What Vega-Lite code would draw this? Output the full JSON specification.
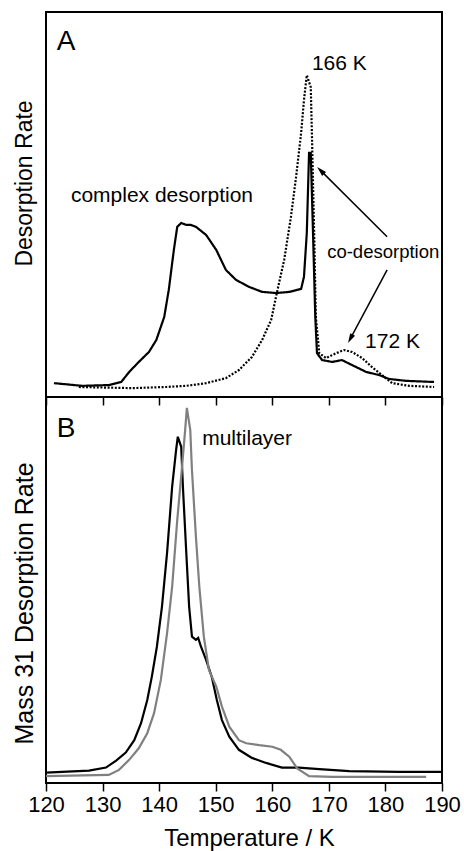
{
  "$schema": "https://vega.github.io/schema/vega-lite/v6.json",
  "padding": {"left": 10, "top": 11, "right": 0, "bottom": 0},
  "spacing": 0,
  "bounds": "flush",
  "config": {
    "view": {"stroke": "#000000", "strokeWidth": 2},
    "font": "Liberation Sans",
    "axis": {"grid": false, "labelColor": "#000000", "titleColor": "#000000", "tickColor": "#000000", "titleFontWeight": "normal", "titleFont": "Liberation Sans", "labelFont": "Liberation Sans"},
    "text": {"font": "Liberation Sans", "color": "#000000"}
  },
  "datasets": {
    "a": [
      {"series": "mixture", "T": 121.4, "rate": 3.6}, {"series": "mixture", "T": 126.4, "rate": 2.9}, {"series": "mixture", "T": 131.1, "rate": 3.1}, {"series": "mixture", "T": 133.3, "rate": 3.9}, {"series": "mixture", "T": 134.7, "rate": 6.5}, {"series": "mixture", "T": 136.4, "rate": 9.1}, {"series": "mixture", "T": 138.2, "rate": 11.7}, {"series": "mixture", "T": 139.5, "rate": 14.8}, {"series": "mixture", "T": 140.9, "rate": 20.8}, {"series": "mixture", "T": 141.7, "rate": 27.8}, {"series": "mixture", "T": 142.6, "rate": 38.2}, {"series": "mixture", "T": 143.2, "rate": 44.2}, {"series": "mixture", "T": 143.9, "rate": 45.2}, {"series": "mixture", "T": 144.8, "rate": 44.7}, {"series": "mixture", "T": 145.6, "rate": 44.7}, {"series": "mixture", "T": 146.5, "rate": 44.2}, {"series": "mixture", "T": 148.3, "rate": 42.1}, {"series": "mixture", "T": 150.1, "rate": 38.2}, {"series": "mixture", "T": 151.8, "rate": 33.0}, {"series": "mixture", "T": 153.6, "rate": 30.4}, {"series": "mixture", "T": 155.9, "rate": 28.6}, {"series": "mixture", "T": 158.2, "rate": 27.3}, {"series": "mixture", "T": 160.7, "rate": 27.0}, {"series": "mixture", "T": 163.0, "rate": 27.3}, {"series": "mixture", "T": 165.1, "rate": 28.1}, {"series": "mixture", "T": 165.6, "rate": 31.2}, {"series": "mixture", "T": 166.1, "rate": 42.6}, {"series": "mixture", "T": 166.5, "rate": 63.4}, {"series": "mixture", "T": 166.8, "rate": 63.4}, {"series": "mixture", "T": 167.2, "rate": 42.6}, {"series": "mixture", "T": 167.6, "rate": 20.8}, {"series": "mixture", "T": 167.9, "rate": 11.4}, {"series": "mixture", "T": 168.8, "rate": 9.6}, {"series": "mixture", "T": 170.6, "rate": 9.1}, {"series": "mixture", "T": 172.3, "rate": 9.6}, {"series": "mixture", "T": 174.1, "rate": 8.3}, {"series": "mixture", "T": 176.6, "rate": 6.5}, {"series": "mixture", "T": 178.9, "rate": 5.7}, {"series": "mixture", "T": 180.6, "rate": 4.7}, {"series": "mixture", "T": 183.6, "rate": 4.2}, {"series": "mixture", "T": 188.6, "rate": 3.9},
      {"series": "reference", "T": 125.8, "rate": 2.6}, {"series": "reference", "T": 135.2, "rate": 2.3}, {"series": "reference", "T": 141.2, "rate": 2.6}, {"series": "reference", "T": 144.8, "rate": 2.9}, {"series": "reference", "T": 148.3, "rate": 3.6}, {"series": "reference", "T": 151.8, "rate": 4.9}, {"series": "reference", "T": 154.1, "rate": 7.0}, {"series": "reference", "T": 156.4, "rate": 10.4}, {"series": "reference", "T": 158.2, "rate": 14.8}, {"series": "reference", "T": 159.8, "rate": 20.0}, {"series": "reference", "T": 160.8, "rate": 27.0}, {"series": "reference", "T": 162.1, "rate": 35.6}, {"series": "reference", "T": 163.3, "rate": 46.8}, {"series": "reference", "T": 164.2, "rate": 57.1}, {"series": "reference", "T": 165.1, "rate": 68.6}, {"series": "reference", "T": 165.6, "rate": 77.1}, {"series": "reference", "T": 166.1, "rate": 83.6}, {"series": "reference", "T": 166.8, "rate": 80.5}, {"series": "reference", "T": 167.0, "rate": 68.6}, {"series": "reference", "T": 167.4, "rate": 42.6}, {"series": "reference", "T": 167.7, "rate": 20.8}, {"series": "reference", "T": 168.3, "rate": 11.4}, {"series": "reference", "T": 169.5, "rate": 10.1}, {"series": "reference", "T": 171.3, "rate": 11.4}, {"series": "reference", "T": 172.7, "rate": 12.2}, {"series": "reference", "T": 174.1, "rate": 11.7}, {"series": "reference", "T": 175.9, "rate": 10.1}, {"series": "reference", "T": 177.6, "rate": 7.8}, {"series": "reference", "T": 179.4, "rate": 5.7}, {"series": "reference", "T": 181.2, "rate": 3.6}, {"series": "reference", "T": 184.2, "rate": 2.9}, {"series": "reference", "T": 188.6, "rate": 2.6}
    ],
    "b": [
      {"series": "submonolayer", "T": 120.0, "rate": 2.7}, {"series": "submonolayer", "T": 127.6, "rate": 3.2}, {"series": "submonolayer", "T": 130.6, "rate": 4.0}, {"series": "submonolayer", "T": 132.4, "rate": 5.8}, {"series": "submonolayer", "T": 134.1, "rate": 7.9}, {"series": "submonolayer", "T": 135.6, "rate": 11.1}, {"series": "submonolayer", "T": 136.8, "rate": 15.5}, {"series": "submonolayer", "T": 137.9, "rate": 21.5}, {"series": "submonolayer", "T": 138.7, "rate": 27.5}, {"series": "submonolayer", "T": 139.6, "rate": 35.3}, {"series": "submonolayer", "T": 140.5, "rate": 45.7}, {"series": "submonolayer", "T": 141.4, "rate": 59.6}, {"series": "submonolayer", "T": 142.3, "rate": 76.8}, {"series": "submonolayer", "T": 143.0, "rate": 86.3}, {"series": "submonolayer", "T": 143.3, "rate": 89.7}, {"series": "submonolayer", "T": 143.9, "rate": 87.1}, {"series": "submonolayer", "T": 144.2, "rate": 76.8}, {"series": "submonolayer", "T": 144.8, "rate": 59.6}, {"series": "submonolayer", "T": 145.3, "rate": 45.7}, {"series": "submonolayer", "T": 145.8, "rate": 37.9}, {"series": "submonolayer", "T": 146.5, "rate": 37.1}, {"series": "submonolayer", "T": 146.9, "rate": 37.6}, {"series": "submonolayer", "T": 147.4, "rate": 35.3}, {"series": "submonolayer", "T": 148.3, "rate": 31.9}, {"series": "submonolayer", "T": 149.3, "rate": 27.5}, {"series": "submonolayer", "T": 150.2, "rate": 21.5}, {"series": "submonolayer", "T": 151.1, "rate": 16.3}, {"series": "submonolayer", "T": 152.4, "rate": 12.0}, {"series": "submonolayer", "T": 154.1, "rate": 8.6}, {"series": "submonolayer", "T": 156.4, "rate": 6.5}, {"series": "submonolayer", "T": 158.9, "rate": 5.2}, {"series": "submonolayer", "T": 161.7, "rate": 4.0}, {"series": "submonolayer", "T": 164.7, "rate": 4.0}, {"series": "submonolayer", "T": 168.3, "rate": 3.6}, {"series": "submonolayer", "T": 173.6, "rate": 3.1}, {"series": "submonolayer", "T": 182.4, "rate": 2.9}, {"series": "submonolayer", "T": 190.0, "rate": 2.9},
      {"series": "multilayer", "T": 120.0, "rate": 1.8}, {"series": "multilayer", "T": 131.1, "rate": 2.1}, {"series": "multilayer", "T": 132.9, "rate": 3.4}, {"series": "multilayer", "T": 134.7, "rate": 6.0}, {"series": "multilayer", "T": 136.4, "rate": 9.0}, {"series": "multilayer", "T": 137.9, "rate": 12.9}, {"series": "multilayer", "T": 139.1, "rate": 18.1}, {"series": "multilayer", "T": 140.3, "rate": 26.7}, {"series": "multilayer", "T": 141.4, "rate": 38.8}, {"series": "multilayer", "T": 142.3, "rate": 50.9}, {"series": "multilayer", "T": 143.2, "rate": 68.1}, {"series": "multilayer", "T": 144.0, "rate": 81.1}, {"series": "multilayer", "T": 144.6, "rate": 91.5}, {"series": "multilayer", "T": 144.9, "rate": 97.2}, {"series": "multilayer", "T": 145.5, "rate": 91.5}, {"series": "multilayer", "T": 145.8, "rate": 81.1}, {"series": "multilayer", "T": 146.5, "rate": 63.8}, {"series": "multilayer", "T": 147.1, "rate": 50.9}, {"series": "multilayer", "T": 147.9, "rate": 37.9}, {"series": "multilayer", "T": 148.8, "rate": 29.3}, {"series": "multilayer", "T": 150.1, "rate": 25.0}, {"series": "multilayer", "T": 151.1, "rate": 19.8}, {"series": "multilayer", "T": 152.4, "rate": 14.6}, {"series": "multilayer", "T": 154.1, "rate": 11.1}, {"series": "multilayer", "T": 155.4, "rate": 10.3}, {"series": "multilayer", "T": 157.7, "rate": 9.8}, {"series": "multilayer", "T": 160.0, "rate": 9.4}, {"series": "multilayer", "T": 161.5, "rate": 8.6}, {"series": "multilayer", "T": 163.0, "rate": 6.8}, {"series": "multilayer", "T": 164.4, "rate": 3.8}, {"series": "multilayer", "T": 166.5, "rate": 1.8}, {"series": "multilayer", "T": 170.6, "rate": 1.6}, {"series": "multilayer", "T": 187.2, "rate": 1.6}
    ],
    "notesA": [
      {"label": "A", "kind": "panel", "T": 121.9, "rate": 90.1},
      {"label": "166 K", "kind": "note", "T": 167.0, "rate": 84.9},
      {"label": "complex desorption", "kind": "note", "T": 124.4, "rate": 50.6},
      {"label": "co-desorption", "kind": "small", "T": 169.7, "rate": 36.1},
      {"label": "172 K", "kind": "note", "T": 176.4, "rate": 12.7}
    ],
    "notesB": [
      {"label": "B", "kind": "panel", "T": 121.9, "rate": 89.6},
      {"label": "multilayer", "kind": "note", "T": 147.6, "rate": 87.6}
    ],
    "arrows": [
      {"id": 1, "T": 180.3, "rate": 41.6, "T2": 168.7, "rate2": 58.6},
      {"id": 2, "T": 180.3, "rate": 33.0, "T2": 173.9, "rate2": 15.4}
    ],
    "heads": [
      {"id": 1, "T": 168.7, "rate": 58.6},
      {"id": 2, "T": 173.9, "rate": 15.4}
    ]
  },
  "vconcat": [
    {
      "width": 396,
      "height": 385,
      "layer": [
        {
          "data": {"name": "a"},
          "mark": {"type": "line", "strokeWidth": 2.2, "color": "#000000"},
          "encoding": {
            "x": {"field": "T", "type": "quantitative", "scale": {"domain": [120, 190], "nice": false},
              "axis": {"title": null, "labels": false, "domain": false, "orient": "bottom", "values": [120, 125, 130, 135, 140, 145, 150, 155, 160, 165, 170, 175, 180, 185, 190], "tickWidth": 1.5, "tickSize": {"condition": {"test": "datum.value % 10 === 0", "value": 8}, "value": 5}}},
            "y": {"field": "rate", "type": "quantitative", "scale": {"domain": [0, 100], "nice": false},
              "axis": {"title": "Desorption Rate", "labels": false, "ticks": false, "domain": false, "titleFontSize": 23, "titleX": -15, "titleY": 171, "titleBaseline": "alphabetic", "titleAngle": 270, "titleAlign": "center"}},
            "strokeDash": {"field": "series", "type": "nominal", "scale": {"domain": ["mixture", "reference"], "range": [[1, 0], [2, 1.6]]}, "legend": null}
          }
        },
        {
          "data": {"name": "arrows"},
          "mark": {"type": "rule", "strokeWidth": 1.5, "color": "#000000"},
          "encoding": {
            "x": {"field": "T", "type": "quantitative"},
            "y": {"field": "rate", "type": "quantitative"},
            "x2": {"field": "T2"},
            "y2": {"field": "rate2"}
          }
        },
        {
          "data": {"name": "heads"},
          "transform": [{"filter": "datum.id == 1"}],
          "mark": {"type": "point", "shape": "M0,-1L0.45,0.6L-0.45,0.6Z", "filled": true, "color": "#000000", "opacity": 1, "size": 150, "angle": 315},
          "encoding": {
            "x": {"field": "T", "type": "quantitative"},
            "y": {"field": "rate", "type": "quantitative"}
          }
        },
        {
          "data": {"name": "heads"},
          "transform": [{"filter": "datum.id == 2"}],
          "mark": {"type": "point", "shape": "M0,-1L0.45,0.6L-0.45,0.6Z", "filled": true, "color": "#000000", "opacity": 1, "size": 150, "angle": 208},
          "encoding": {
            "x": {"field": "T", "type": "quantitative"},
            "y": {"field": "rate", "type": "quantitative"}
          }
        },
        {
          "data": {"name": "notesA"},
          "transform": [{"filter": "datum.kind == 'panel'"}],
          "mark": {"type": "text", "align": "left", "baseline": "alphabetic", "fontSize": 28},
          "encoding": {
            "x": {"field": "T", "type": "quantitative"},
            "y": {"field": "rate", "type": "quantitative"},
            "text": {"field": "label"}
          }
        },
        {
          "data": {"name": "notesA"},
          "transform": [{"filter": "datum.kind == 'note'"}],
          "mark": {"type": "text", "align": "left", "baseline": "alphabetic", "fontSize": 21},
          "encoding": {
            "x": {"field": "T", "type": "quantitative"},
            "y": {"field": "rate", "type": "quantitative"},
            "text": {"field": "label"}
          }
        },
        {
          "data": {"name": "notesA"},
          "transform": [{"filter": "datum.kind == 'small'"}],
          "mark": {"type": "text", "align": "left", "baseline": "alphabetic", "fontSize": 18.5},
          "encoding": {
            "x": {"field": "T", "type": "quantitative"},
            "y": {"field": "rate", "type": "quantitative"},
            "text": {"field": "label"}
          }
        }
      ]
    },
    {
      "width": 396,
      "height": 386,
      "layer": [
        {
          "data": {"name": "b"},
          "mark": {"type": "line", "strokeWidth": 2.2},
          "encoding": {
            "x": {"field": "T", "type": "quantitative", "scale": {"domain": [120, 190], "nice": false},
              "axis": {"title": "Temperature / K", "titleFontSize": 24, "titleX": 203, "titleY": 62, "titleBaseline": "alphabetic", "titleAlign": "center", "labelFontSize": 22, "labelPadding": 3, "labelFlush": false, "labelOverlap": false, "domain": false, "orient": "bottom", "values": [120, 125, 130, 135, 140, 145, 150, 155, 160, 165, 170, 175, 180, 185, 190], "labelExpr": "datum.value % 10 === 0 ? datum.label : ''", "tickWidth": 1.5, "tickSize": {"condition": {"test": "datum.value % 10 === 0", "value": 8}, "value": 5}}},
            "y": {"field": "rate", "type": "quantitative", "scale": {"domain": [0, 100], "nice": false},
              "axis": {"title": "Mass 31 Desorption Rate", "labels": false, "ticks": false, "domain": false, "titleFontSize": 25, "titleX": -14, "titleY": 206, "titleBaseline": "alphabetic", "titleAngle": 270, "titleAlign": "center"}},
            "color": {"field": "series", "type": "nominal", "scale": {"domain": ["submonolayer", "multilayer"], "range": ["#000000", "#808080"]}, "legend": null}
          }
        },
        {
          "data": {"name": "notesB"},
          "transform": [{"filter": "datum.kind == 'panel'"}],
          "mark": {"type": "text", "align": "left", "baseline": "alphabetic", "fontSize": 28},
          "encoding": {
            "x": {"field": "T", "type": "quantitative"},
            "y": {"field": "rate", "type": "quantitative"},
            "text": {"field": "label"}
          }
        },
        {
          "data": {"name": "notesB"},
          "transform": [{"filter": "datum.kind == 'note'"}],
          "mark": {"type": "text", "align": "left", "baseline": "alphabetic", "fontSize": 21},
          "encoding": {
            "x": {"field": "T", "type": "quantitative"},
            "y": {"field": "rate", "type": "quantitative"},
            "text": {"field": "label"}
          }
        }
      ]
    }
  ]
}
